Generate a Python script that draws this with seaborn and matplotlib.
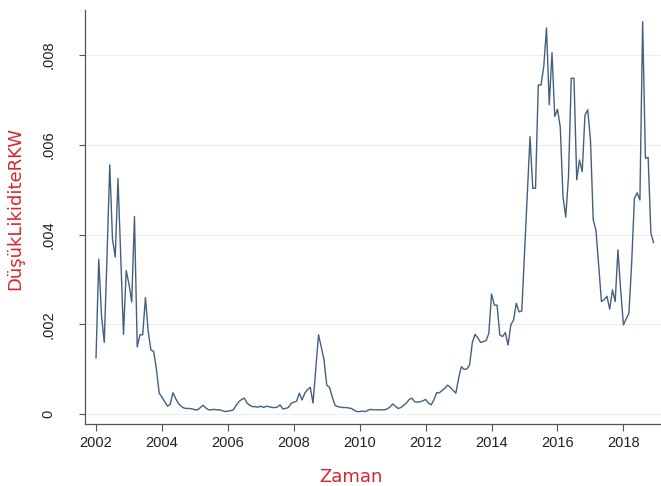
import numpy as np
import pandas as pd
import matplotlib
matplotlib.use("Agg")
import matplotlib.pyplot as plt
import seaborn as sns
from matplotlib.ticker import FixedLocator, FuncFormatter

# Monthly low-liquidity (RKW) series, January 2002 - December 2018
y2002 = [0.00125, 0.00345, 0.0022, 0.0016, 0.0035, 0.00555, 0.0039, 0.0035, 0.00525, 0.0035, 0.00178, 0.0032]
y2003 = [0.0029, 0.0025, 0.0044, 0.0015, 0.00177, 0.00177, 0.0026, 0.00184, 0.00143, 0.0014, 0.0010, 0.00047]
y2004 = [0.00038, 0.00028, 0.00018, 0.00022, 0.00048, 0.00035, 0.00024, 0.00018, 0.00014, 0.00013, 0.00013, 0.00012]
y2005 = [0.0001, 0.0001, 0.00015, 0.0002, 0.00014, 0.0001, 0.0001, 0.00011, 0.0001, 0.0001, 0.00008, 0.00006]
y2006 = [0.00007, 0.00008, 0.0001, 0.0002, 0.00028, 0.00033, 0.00036, 0.00025, 0.0002, 0.00017, 0.00017, 0.00016]
y2007 = [0.00018, 0.00015, 0.00018, 0.00017, 0.00015, 0.00015, 0.00016, 0.00021, 0.00012, 0.00013, 0.00015, 0.00024]
y2008 = [0.00027, 0.00029, 0.00047, 0.00032, 0.00047, 0.00055, 0.0006, 0.00025, 0.0010, 0.00177, 0.0015, 0.00121]
y2009 = [0.00065, 0.0006, 0.00039, 0.0002, 0.00017, 0.00016, 0.00015, 0.00015, 0.00014, 0.00013, 0.00009, 0.00006]
y2010 = [0.00006, 0.00007, 0.00006, 0.00009, 0.00011, 0.0001, 0.0001, 0.0001, 0.0001, 0.0001, 0.00012, 0.00016]
y2011 = [0.00023, 0.00018, 0.00013, 0.00015, 0.0002, 0.00025, 0.00033, 0.00036, 0.00028, 0.00027, 0.00028, 0.0003]
y2012 = [0.00033, 0.00025, 0.00021, 0.00032, 0.00048, 0.00048, 0.00053, 0.00058, 0.00065, 0.0006, 0.00053, 0.00047]
y2013 = [0.0008, 0.00106, 0.001, 0.00101, 0.0011, 0.0016, 0.00178, 0.0017, 0.0016, 0.00162, 0.00164, 0.0018]
y2014 = [0.00268, 0.00243, 0.00243, 0.00177, 0.00173, 0.00182, 0.00154, 0.00199, 0.0021, 0.00247, 0.00228, 0.0023]
y2015 = [0.00358, 0.00485, 0.00618, 0.00503, 0.00503, 0.00733, 0.00733, 0.00774, 0.0086, 0.00689, 0.00805, 0.00663]
y2016 = [0.00679, 0.0064, 0.00485, 0.00439, 0.00529, 0.00748, 0.00748, 0.00522, 0.00566, 0.0054, 0.00666, 0.00678]
y2017 = [0.00611, 0.00433, 0.0041, 0.00329, 0.00251, 0.00255, 0.00263, 0.00234, 0.00277, 0.00251, 0.00366, 0.00277]
y2018 = [0.00199, 0.00212, 0.00225, 0.00336, 0.00481, 0.00493, 0.00477, 0.00874, 0.0057, 0.00572, 0.00403, 0.00382]

years = list(range(2002, 2019))
yearly = [y2002, y2003, y2004, y2005, y2006, y2007, y2008, y2009, y2010,
          y2011, y2012, y2013, y2014, y2015, y2016, y2017, y2018]

x_ticks = [2002, 2004, 2006, 2008, 2010, 2012, 2014, 2016, 2018]
y_ticks = [0, 0.002, 0.004, 0.006, 0.008]

rows = []
for yr, vals in zip(years, yearly):
    for i, v in enumerate(vals):
        rows.append({"Zaman": yr + i / 12.0, "RKW": v})
df = pd.DataFrame(rows)

sns.set_theme(style="white")
plt.rcParams["font.family"] = ["Liberation Sans", "DejaVu Sans"]

fig = plt.figure(figsize=(6.61, 4.86), dpi=100)
ax = fig.add_axes([85 / 661, (486 - 424) / 486, (661 - 85) / 661, (424 - 10) / 486])

sns.lineplot(data=df, x="Zaman", y="RKW", ax=ax, color="#44607e", linewidth=1.0)

ax.set_xlim(2001.666, 2019.14)
ax.set_ylim(-0.000216, 0.0090)

ax.xaxis.set_major_locator(FixedLocator(x_ticks))
ax.yaxis.set_major_locator(FixedLocator(y_ticks))


def fmt_y(v, pos):
    if v == 0:
        return "0"
    return ("%.3f" % v).lstrip("0")


ax.yaxis.set_major_formatter(FuncFormatter(fmt_y))
ax.xaxis.set_major_formatter(FuncFormatter(lambda v, p: "%d" % v))

# horizontal reference lines at the y ticks
ax.grid(False)
for t in y_ticks:
    ax.axhline(t, color="#eeeeee", linewidth=0.8, zorder=0)

for side in ["top", "right"]:
    ax.spines[side].set_visible(False)
for side in ["left", "bottom"]:
    ax.spines[side].set_color("#555555")
    ax.spines[side].set_linewidth(0.9)

ax.tick_params(axis="x", which="major", bottom=True, length=5, width=0.8,
               color="#555555", labelsize=10.5, labelcolor="#222222", pad=3.5)
ax.tick_params(axis="y", which="major", left=True, length=4.5, width=0.8,
               color="#555555", labelsize=10.5, labelcolor="#222222", pad=22)
for lab in ax.get_yticklabels():
    lab.set_rotation(90)
    lab.set_va("center")
    lab.set_ha("center")

ax.set_xlabel("")
ax.set_ylabel("")
label_font = ["DejaVu Sans"]
fig.text(351 / 661, 1 - 481.5 / 486, "Zaman", color="#d7262e", fontsize=13,
         family=label_font, ha="center", va="baseline")
fig.text(15.5 / 661, 1 - 208 / 486, "DüşükLikiditeRKW", color="#d7262e", fontsize=13,
         family=label_font, ha="center", va="center", rotation=90)

fig.savefig("out.png", dpi=100, facecolor="white")
